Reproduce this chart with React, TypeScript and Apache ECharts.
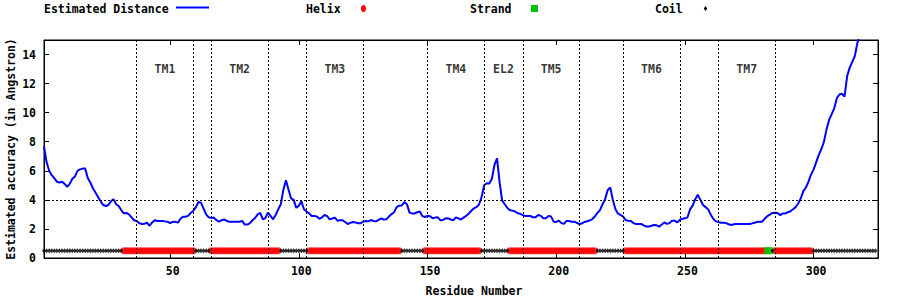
import React, { useEffect, useRef } from "react";
import * as echarts from "echarts";

// Estimated distance per residue, starting at residue 1
const firstResidue = 1;
const distance: number[] = [
  7.7, 6.6, 6.0, 5.7, 5.5, 5.25, 5.2, 5.25, 5.1, 4.9,
  5.1, 5.45, 5.6, 6.0, 6.1, 6.15, 6.15, 5.5, 5.2, 4.8,
  4.5, 4.2, 3.9, 3.65, 3.58, 3.65, 3.9, 4.05, 3.7, 3.58,
  3.3, 3.07, 3.1, 3.0, 2.8, 2.6, 2.55, 2.4, 2.34, 2.35,
  2.43, 2.22, 2.45, 2.6, 2.55, 2.55, 2.55, 2.52, 2.5, 2.4,
  2.48, 2.5, 2.43, 2.7, 2.84, 2.84, 2.9, 3.1, 3.25, 3.5,
  3.85, 3.8, 3.4, 3.0, 2.8, 2.75, 2.78, 2.6, 2.5, 2.6,
  2.65, 2.55, 2.5, 2.5, 2.5, 2.5, 2.5, 2.55, 2.3, 2.3,
  2.4, 2.6, 2.75, 3.0, 3.1, 2.65, 2.75, 3.12, 2.9, 2.66,
  2.96, 3.35, 3.7, 4.7, 5.35, 4.7, 4.1, 4.0, 3.45, 3.6,
  3.9, 3.35, 3.2, 3.07, 2.89, 2.89, 2.85, 2.7, 2.8, 2.96,
  2.88, 2.66, 2.72, 2.78, 2.57, 2.6, 2.6, 2.48, 2.34, 2.42,
  2.48, 2.45, 2.39, 2.39, 2.5, 2.54, 2.52, 2.61, 2.55, 2.52,
  2.62, 2.72, 2.65, 2.66, 2.85, 3.02, 3.15, 3.5, 3.6, 3.62,
  3.85, 3.7, 3.12, 3.07, 3.07, 3.15, 3.2, 2.88, 2.82, 2.9,
  2.88, 2.73, 2.78, 2.8, 2.6, 2.62, 2.72, 2.73, 2.65, 2.6,
  2.8, 2.73, 2.65, 2.78, 2.9, 3.05, 3.25, 3.42, 3.5, 3.68,
  4.2, 5.0, 5.15, 5.12, 5.45, 6.4, 6.85, 5.2, 3.95, 3.7,
  3.45, 3.28, 3.26, 3.2, 3.08, 3.04, 2.95, 2.89, 2.89, 2.89,
  2.8, 2.8, 2.96, 2.9, 2.73, 2.73, 2.9, 2.85, 2.5, 2.48,
  2.57, 2.4, 2.35, 2.55, 2.55, 2.5, 2.5, 2.42, 2.34, 2.38,
  2.48, 2.53, 2.58, 2.68, 2.86, 3.1, 3.3, 3.7, 4.05, 4.68,
  4.85, 3.99, 3.35, 3.05, 2.96, 2.85, 2.6, 2.57, 2.55, 2.4,
  2.34, 2.34, 2.34, 2.25, 2.16, 2.16, 2.22, 2.27, 2.25, 2.16,
  2.3, 2.45, 2.35, 2.4, 2.57, 2.57, 2.45, 2.62, 2.7, 2.73,
  2.8, 3.35, 3.6, 4.05, 4.35, 4.0, 3.65, 3.5, 3.35, 3.0,
  2.7, 2.52, 2.48, 2.43, 2.43, 2.4, 2.32, 2.27, 2.32, 2.34,
  2.34, 2.34, 2.34, 2.34, 2.34, 2.38, 2.43, 2.48, 2.5, 2.5,
  2.7, 2.88, 2.98, 3.1, 3.12, 3.1, 2.95, 3.07, 3.07, 3.15,
  3.22, 3.35, 3.5, 3.75, 4.1, 4.6, 4.85, 5.25, 5.75, 6.1,
  6.6, 7.1, 7.5, 8.0, 8.85, 9.5, 9.9, 10.3, 11.0, 11.25,
  11.3, 11.1, 12.5, 13.1, 13.5, 13.9, 14.8, 15.4,
];

// Secondary structure (residue ranges), protein length
const proteinLength = 324;
const helixSegments: [number, number][] = [
  [32, 59], [66, 92], [104, 139], [149, 170], [182, 215], [227, 281], [285, 299],
];
const strandSegments: [number, number][] = [[282, 283]];
const ssLevel = 0.5;

// Transmembrane regions
const tmNames = ["TM1", "TM2", "TM3", "TM4", "EL2", "TM5", "TM6", "TM7"];
const tmStarts = [37, 66, 103, 150, 172, 187, 226, 263];
const tmEnds = [59, 88, 125, 172, 187, 209, 248, 285];
const tmLabelLevel = 13;
const thresholdLine = 4;

// Axes
const xMin = 1;
const xMax = 325;
const xTicks = [50, 100, 150, 200, 250, 300];
const yMin = 0;
const yMax = 15;
const yTicks = [0, 2, 4, 6, 8, 10, 12, 14];

const FONT = {
  fontFamily: "'DejaVu Sans Mono', monospace",
  fontWeight: "bold" as const,
  fontSize: 11.5,
  color: "#000",
};

function inSegments(r: number, segs: [number, number][]) {
  return segs.some(([a, b]) => r >= a && r <= b);
}

export default function App() {
  const ref = useRef<HTMLDivElement>(null);

  useEffect(() => {
    if (!ref.current) return;
    const chart = echarts.init(ref.current, null, { renderer: "svg" });

    const distData = distance.map((v, i) => [i + firstResidue, v]);
    const helixData: number[][] = [];
    const strandData: number[][] = [];
    const coilData: number[][] = [];
    for (let r = 1; r <= proteinLength; r++) {
      if (inSegments(r, helixSegments)) helixData.push([r, ssLevel]);
      else if (inSegments(r, strandSegments)) strandData.push([r, ssLevel]);
      else coilData.push([r, ssLevel]);
    }
    const boundaries = Array.from(new Set([...tmStarts, ...tmEnds])).sort((a, b) => a - b);
    const tmLabelData = tmNames.map((n, i) => ({
      name: n,
      value: [(tmStarts[i] + tmEnds[i]) / 2, tmLabelLevel],
    }));

    const axisLineStyle = { color: "#000", width: 1 };

    const option: any = {
      animation: false,
      grid: {
        left: 44,
        top: 40,
        width: 834,
        height: 218,
        containLabel: false,
        outerBoundsMode: "none",
        show: true,
        borderColor: "#000",
        borderWidth: 1,
        backgroundColor: "transparent",
      },
      xAxis: [
        {
          type: "value",
          min: xMin,
          max: xMax,
          position: "bottom",
          name: "Residue Number",
          nameLocation: "middle",
          nameGap: 27,
          nameMoveOverlap: false,
          nameTextStyle: { ...FONT, padding: [0, 0, 0, 26] },
          axisLine: { show: true, onZero: false, lineStyle: axisLineStyle },
          axisTick: { show: true, inside: true, length: 5, customValues: xTicks, lineStyle: axisLineStyle },
          axisLabel: { customValues: xTicks, margin: 7, ...FONT, padding: [0, 0, 0, 5] },
          splitLine: { show: false },
        },
        {
          type: "value",
          min: xMin,
          max: xMax,
          position: "top",
          axisLine: { show: true, onZero: false, lineStyle: axisLineStyle },
          axisTick: { show: true, inside: true, length: 5, customValues: xTicks, lineStyle: axisLineStyle },
          axisLabel: { show: false },
          splitLine: { show: false },
        },
      ],
      yAxis: [
        {
          type: "value",
          min: yMin,
          max: yMax,
          position: "left",
          name: "Estimated accuracy (in Angstron)",
          nameLocation: "middle",
          nameGap: 27,
          nameMoveOverlap: false,
          nameTextStyle: { ...FONT },
          axisLine: { show: true, onZero: false, lineStyle: axisLineStyle },
          axisTick: { show: true, inside: true, length: 5, customValues: yTicks, lineStyle: axisLineStyle },
          axisLabel: { customValues: yTicks, margin: 8, ...FONT },
          splitLine: { show: false },
        },
        {
          type: "value",
          min: yMin,
          max: yMax,
          position: "right",
          axisLine: { show: true, onZero: false, lineStyle: axisLineStyle },
          axisTick: { show: true, inside: true, length: 5, customValues: yTicks, lineStyle: axisLineStyle },
          axisLabel: { show: false },
          splitLine: { show: false },
        },
      ],
      series: [
        {
          type: "line",
          name: "Estimated Distance",
          data: distData,
          symbol: "none",
          showSymbol: false,
          clip: true,
          lineStyle: { color: "#0000ff", width: 2 },
          z: 3,
          markLine: {
            silent: true,
            symbol: "none",
            label: { show: false },
            lineStyle: { color: "#000", type: [2, 2], width: 1 },
            data: [...boundaries.map((b) => ({ xAxis: b })), { yAxis: thresholdLine }],
          },
        },
        {
          type: "scatter",
          name: "Helix",
          data: helixData,
          symbol: "circle",
          symbolSize: 7,
          itemStyle: { color: "#ff0000" },
          z: 4,
        },
        {
          type: "scatter",
          name: "Strand",
          data: strandData,
          symbol: "rect",
          symbolSize: 7,
          itemStyle: { color: "#00c000" },
          z: 5,
        },
        {
          type: "scatter",
          name: "Coil",
          data: coilData,
          symbol: "diamond",
          symbolSize: [4, 5],
          itemStyle: { color: "#000" },
          z: 6,
        },
        {
          type: "scatter",
          name: "TM regions",
          data: tmLabelData,
          symbolSize: 1,
          itemStyle: { color: "rgba(0,0,0,0)" },
          label: { show: true, position: "inside", formatter: "{b}", ...FONT },
          z: 7,
        },
      ],
      graphic: [
        { type: "text", left: 44, top: 3, style: { text: "Estimated Distance", ...FONT, fill: "#000" } },
        { type: "line", shape: { x1: 176, y1: 7.5, x2: 209, y2: 7.5 }, style: { stroke: "#0000ff", lineWidth: 2 } },
        { type: "text", left: 306, top: 3, style: { text: "Helix", ...FONT, fill: "#000" } },
        { type: "ellipse", shape: { cx: 363.5, cy: 8.5, rx: 2.6, ry: 3.6 }, style: { fill: "#ff0000" } },
        { type: "text", left: 470, top: 3, style: { text: "Strand", ...FONT, fill: "#000" } },
        { type: "rect", shape: { x: 531, y: 5, width: 7, height: 7 }, style: { fill: "#00c000" } },
        { type: "text", left: 655, top: 3, style: { text: "Coil", ...FONT, fill: "#000" } },
        { type: "polygon", shape: { points: [[705.5, 6], [707.2, 8.5], [705.5, 11], [703.8, 8.5]] }, style: { fill: "#000" } },
      ],
    };

    chart.setOption(option);
    return () => chart.dispose();
  }, []);

  return (
    <div
      ref={ref}
      style={{ position: "absolute", left: 0, top: 0, width: 900, height: 300, background: "#fff" }}
    />
  );
}
